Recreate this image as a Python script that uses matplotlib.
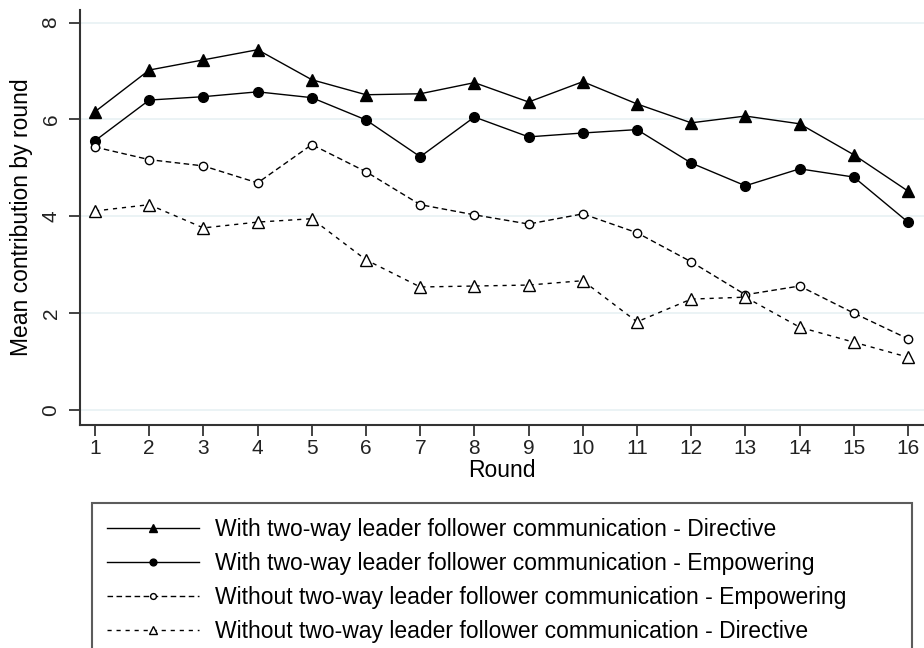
import numpy as np
import matplotlib.pyplot as plt

rounds = list(range(1, 17))
with_directive = [6.16, 7.02, 7.23, 7.44, 6.82, 6.51, 6.53, 6.76, 6.36, 6.78, 6.32, 5.93, 6.07, 5.91, 5.27, 4.52]
with_empowering = [5.56, 6.40, 6.47, 6.57, 6.45, 5.99, 5.23, 6.05, 5.64, 5.72, 5.79, 5.10, 4.63, 4.98, 4.81, 3.88]
without_empowering = [5.43, 5.17, 5.04, 4.69, 5.48, 4.92, 4.24, 4.03, 3.84, 4.05, 3.66, 3.06, 2.38, 2.56, 2.00, 1.47]
without_directive = [4.11, 4.24, 3.76, 3.88, 3.95, 3.10, 2.54, 2.56, 2.58, 2.67, 1.82, 2.29, 2.33, 1.71, 1.40, 1.09]
labels = ['With two-way leader follower communication - Directive',
          'With two-way leader follower communication - Empowering',
          'Without two-way leader follower communication - Empowering',
          'Without two-way leader follower communication - Directive']

plt.rcParams['font.family'] = ['Liberation Sans', 'DejaVu Sans']

fig = plt.figure(figsize=(9.24, 6.48), dpi=100)
ax = fig.add_axes([80/924, 1-425/648, 1-80/924, 415/648])

ax.plot(rounds, with_directive, color='black', lw=1, marker='^', ms=9, mfc='black', label=labels[0])
ax.plot(rounds, with_empowering, color='black', lw=1, marker='o', ms=7, mfc='black', label=labels[1])
ax.plot(rounds, without_empowering, color='black', lw=1, ls=(0, (4, 2.5)), marker='o', ms=6, mfc='white', label=labels[2])
ax.plot(rounds, without_directive, color='black', lw=1, ls=(0, (3, 3.5)), marker='^', ms=9, mfc='white', label=labels[3])

ax.set_xlim(0.723, 16.295)
ax.set_ylim(-0.31, 8.26)
ax.set_xticks(rounds)
ax.set_yticks([0, 2, 4, 6, 8])
ax.set_yticklabels(['0', '2', '4', '6', '8'], rotation=90, va='center')
ax.tick_params(axis='both', labelsize=15, colors='#222222', length=8, width=1.2, pad=6)
ax.tick_params(axis='x', pad=2)
ax.grid(axis='y', color='#e8f1f3', lw=1.2)
ax.set_axisbelow(True)
for s in ['top', 'right']:
    ax.spines[s].set_visible(False)
for s in ['left', 'bottom']:
    ax.spines[s].set_color('#333333')
    ax.spines[s].set_linewidth(1.5)
ax.set_xlabel('Round', fontsize=16.5, labelpad=1)
ax.set_ylabel('Mean contribution by round', fontsize=16.5, labelpad=6)

top = 1 - 503/648
leg = fig.legend(loc='upper left', bbox_to_anchor=(92/924, top - 0.3, 820/924, 0.3),
                 mode='expand', fontsize=16.5, frameon=True, fancybox=False,
                 handlelength=4.0, handletextpad=0.7, markerscale=0.7,
                 borderpad=0.65, labelspacing=0.48, borderaxespad=0)
leg.get_frame().set_edgecolor('#333333')
leg.get_frame().set_linewidth(1.5)

fig.savefig('out.png', dpi=100)
